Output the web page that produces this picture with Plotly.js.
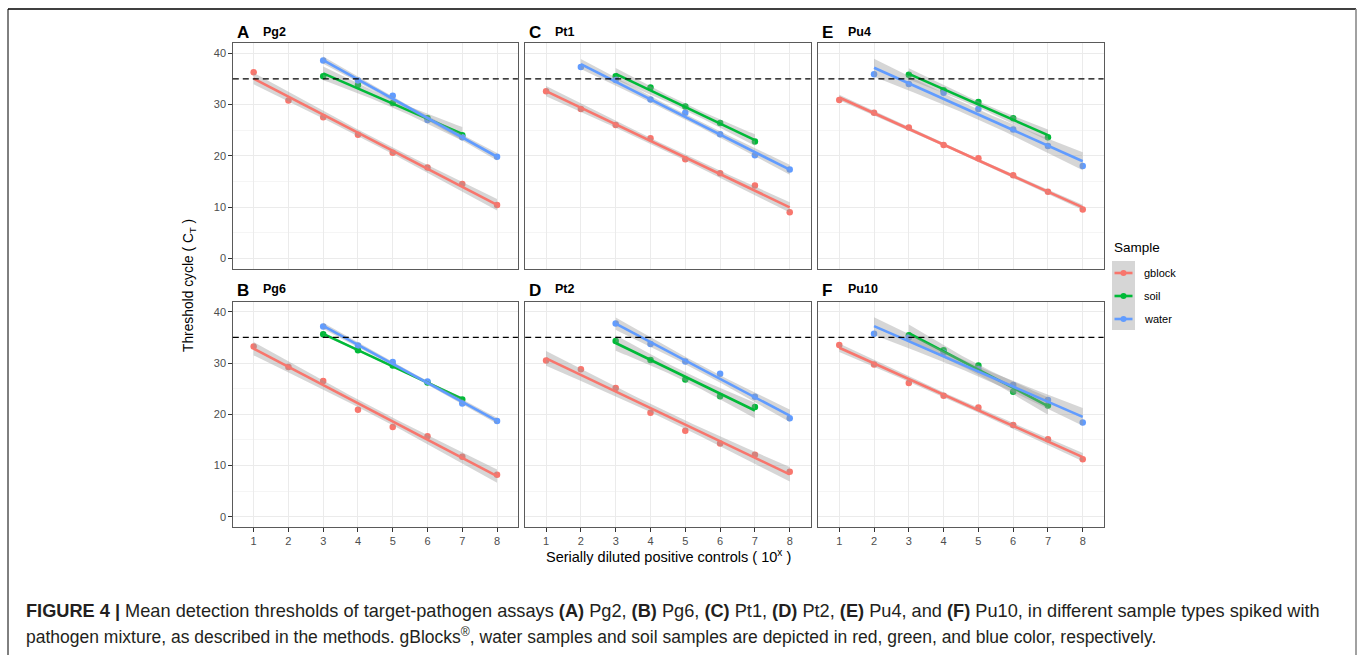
<!DOCTYPE html>
<html>
<head>
<meta charset="utf-8">
<script src="https://cdn.plot.ly/plotly-3.0.1.min.js"></script>
<style>html,body{margin:0;padding:0;background:#fff;}#chart{width:1360px;height:655px;}</style>
</head>
<body>
<div id="chart"></div>
<script>
// ---------------- data ----------------
const dilution = [1, 2, 3, 4, 5, 6, 7, 8];
const soilX = [3, 4, 5, 6, 7];
const panelLetters = ['A', 'B', 'C', 'D', 'E', 'F'];
const assays = ['Pg2', 'Pg6', 'Pt1', 'Pt2', 'Pu4', 'Pu10'];
const sampleNames = ['gblock', 'soil', 'water'];
const sampleColors = ['#F8766D', '#00BA38', '#619CFF'];

const pg2_gblock = [36.3, 30.8, 27.5, 24.1, 20.6, 17.7, 14.5, 10.4];
const pg2_soil = [35.5, 33.8, 30.3, 27.3, 24.0];
const pg2_waterX = [3, 4, 5, 6, 7, 8];
const pg2_water = [38.6, 34.7, 31.7, 27.0, 23.6, 19.8];

const pg6_gblock = [33.2, 29.2, 26.5, 20.9, 17.5, 15.7, 11.7, 8.2];
const pg6_soil = [35.6, 32.5, 29.5, 26.2, 22.9];
const pg6_waterX = [3, 4, 5, 6, 7, 8];
const pg6_water = [37.1, 33.4, 30.2, 26.4, 22.1, 18.7];

const pt1_gblock = [32.6, 29.1, 26.0, 23.4, 19.3, 16.6, 14.2, 9.0];
const pt1_soil = [35.5, 33.3, 29.6, 26.4, 22.8];
const pt1_waterX = [2, 3, 4, 5, 6, 7, 8];
const pt1_water = [37.3, 34.8, 31.0, 28.4, 24.2, 20.1, 17.3];

const pt2_gblock = [30.5, 28.8, 25.1, 20.3, 16.8, 14.3, 12.1, 8.8];
const pt2_soil = [34.3, 30.6, 26.8, 23.5, 21.4];
const pt2_waterX = [3, 4, 5, 6, 7, 8];
const pt2_water = [37.7, 33.7, 30.3, 27.9, 23.4, 19.2];

const pu4_gblock = [30.9, 28.4, 25.5, 22.1, 19.5, 16.2, 13.0, 9.5];
const pu4_soil = [35.8, 32.8, 30.5, 27.3, 23.6];
const pu4_waterX = [2, 3, 4, 5, 6, 7, 8];
const pu4_water = [35.9, 34.0, 32.3, 29.1, 25.1, 21.9, 18.0];

const pu10_gblock = [33.5, 29.7, 26.1, 23.6, 21.3, 17.9, 15.1, 11.2];
const pu10_soil = [35.4, 32.5, 29.5, 24.4, 21.7];
const pu10_waterX = [2, 3, 4, 5, 6, 7, 8];
const pu10_water = [35.7, 35.0, 32.0, 28.8, 25.7, 22.8, 18.4];

const threshold = 35;
const yTicks = [0, 10, 20, 30, 40];

// panel order: A,B,C,D,E,F
const panelSeries = [
  [[dilution, pg2_gblock], [soilX, pg2_soil], [pg2_waterX, pg2_water]],
  [[dilution, pg6_gblock], [soilX, pg6_soil], [pg6_waterX, pg6_water]],
  [[dilution, pt1_gblock], [soilX, pt1_soil], [pt1_waterX, pt1_water]],
  [[dilution, pt2_gblock], [soilX, pt2_soil], [pt2_waterX, pt2_water]],
  [[dilution, pu4_gblock], [soilX, pu4_soil], [pu4_waterX, pu4_water]],
  [[dilution, pu10_gblock], [soilX, pu10_soil], [pu10_waterX, pu10_water]]
];

// ---------------- layout helpers ----------------
const W = 1360, H = 655;
const px = v => v / W;
const py = v => 1 - v / H;
const colBox = [[232.8, 517.9], [525.2, 810.6], [818.4, 1103.6]];
const rowBox = [[43, 268.5], [301.5, 527]];
const FONT = 'Liberation Sans, Arial, Helvetica, sans-serif';

// t quantiles (0.975) for the 95% confidence band, by degrees of freedom
const tq = {1: 12.706, 2: 4.303, 3: 3.182, 4: 2.776, 5: 2.571, 6: 2.447, 7: 2.365};

function lmBand(xs, ys) {
  const n = xs.length;
  const mx = xs.reduce((a, b) => a + b, 0) / n;
  const my = ys.reduce((a, b) => a + b, 0) / n;
  let sxx = 0, sxy = 0;
  for (let i = 0; i < n; i++) { sxx += (xs[i] - mx) ** 2; sxy += (xs[i] - mx) * (ys[i] - my); }
  const b = sxy / sxx, a = my - b * mx;
  let sse = 0;
  for (let i = 0; i < n; i++) sse += (ys[i] - (a + b * xs[i])) ** 2;
  const s = Math.sqrt(sse / (n - 2));
  const t = tq[n - 2];
  const x0 = Math.min(...xs), x1 = Math.max(...xs);
  const gx = [], fit = [], lo = [], hi = [];
  const N = 80;
  for (let k = 0; k <= N; k++) {
    const x = x0 + (x1 - x0) * k / N;
    const f = a + b * x;
    const se = s * Math.sqrt(1 / n + (x - mx) ** 2 / sxx);
    gx.push(x); fit.push(f); lo.push(f - t * se); hi.push(f + t * se);
  }
  return {gx, fit, lo, hi};
}

const traces = [];
const layout = {
  width: W, height: H,
  margin: {l: 0, r: 0, t: 0, b: 0},
  paper_bgcolor: '#fff', plot_bgcolor: '#fff',
  showlegend: false,
  font: {family: FONT, color: '#000'},
  shapes: [], annotations: []
};

for (let p = 0; p < 6; p++) {
  const col = Math.floor(p / 2), row = p % 2;
  const k = p + 1;
  const xa = 'x' + (k === 1 ? '' : k), ya = 'y' + (k === 1 ? '' : k);
  const xkey = 'xaxis' + (k === 1 ? '' : k), ykey = 'yaxis' + (k === 1 ? '' : k);
  layout[xkey] = {
    domain: [px(colBox[col][0]), px(colBox[col][1])],
    anchor: ya, range: [0.4, 8.6], tickvals: dilution, ticktext: dilution.map(String),
    showgrid: true, gridcolor: '#ebebeb', gridwidth: 1, zeroline: false,
    showline: true, mirror: true, linecolor: '#5a5a5a', linewidth: 1,
    ticks: row === 1 ? 'outside' : '', ticklen: 3.5, tickcolor: '#333',
    showticklabels: row === 1,
    tickfont: {size: 11, color: '#4d4d4d', family: FONT}
  };
  layout[ykey] = {
    domain: [py(rowBox[row][1]), py(rowBox[row][0])],
    anchor: xa, range: [-2, 42], tickvals: yTicks, ticktext: yTicks.map(String),
    showgrid: true, gridcolor: '#ebebeb', gridwidth: 1, zeroline: false,
    minor: {showgrid: true, gridcolor: '#f3f3f3', gridwidth: 0.8, tickvals: [5, 15, 25, 35]},
    showline: true, mirror: true, linecolor: '#5a5a5a', linewidth: 1,
    ticks: col === 0 ? 'outside' : '', ticklen: 3.5, tickcolor: '#333',
    showticklabels: col === 0,
    tickfont: {size: 11, color: '#4d4d4d', family: FONT}
  };
  // points first
  for (let s = 0; s < 3; s++) {
    const [xs, ys] = panelSeries[p][s];
    traces.push({
      type: 'scatter', mode: 'markers', x: xs, y: ys, xaxis: xa, yaxis: ya,
      name: sampleNames[s], marker: {color: sampleColors[s], size: 6.5}, hoverinfo: 'x+y'
    });
  }
  // smooth: band then line, per group
  for (let s = 0; s < 3; s++) {
    const [xs, ys] = panelSeries[p][s];
    const bd = lmBand(xs, ys);
    traces.push({
      type: 'scatter', mode: 'lines', x: bd.gx.concat(bd.gx.slice().reverse()),
      y: bd.hi.concat(bd.lo.slice().reverse()), xaxis: xa, yaxis: ya,
      fill: 'toself', fillcolor: 'rgba(153,153,153,0.4)', line: {width: 0, color: 'rgba(0,0,0,0)'},
      hoverinfo: 'skip', name: sampleNames[s] + ' CI'
    });
    traces.push({
      type: 'scatter', mode: 'lines', x: bd.gx, y: bd.fit, xaxis: xa, yaxis: ya,
      line: {color: sampleColors[s], width: 2.6}, hoverinfo: 'skip', name: sampleNames[s] + ' fit'
    });
  }
  // threshold line
  layout.shapes.push({
    type: 'line', xref: xa + ' domain', x0: 0, x1: 1, yref: ya, y0: threshold, y1: threshold,
    line: {color: '#000', width: 1.2, dash: '6px,4px'}
  });
  // strip labels
  const ty = row === 0 ? 33 : 290;
  layout.annotations.push({
    xref: 'paper', yref: 'paper', x: px(colBox[col][0] + 2), y: py(ty), xanchor: 'left', yanchor: 'middle',
    text: '<b>' + panelLetters[p] + '</b>', showarrow: false, font: {size: 17, family: FONT, color: '#000'}
  });
  layout.annotations.push({
    xref: 'paper', yref: 'paper', x: px(colBox[col][0] + 28), y: py(ty - 1), xanchor: 'left', yanchor: 'middle',
    text: '<b>' + assays[p] + '</b>', showarrow: false, font: {size: 12.5, family: FONT, color: '#000'}
  });
}

// axis titles
layout.annotations.push({
  xref: 'paper', yref: 'paper', x: px(668), y: py(556), xanchor: 'center', yanchor: 'middle',
  text: 'Serially diluted positive controls ( 10<sup>x</sup> )', showarrow: false,
  font: {size: 14.5, family: FONT, color: '#000'}
});
layout.annotations.push({
  xref: 'paper', yref: 'paper', x: px(189), y: py(286), xanchor: 'center', yanchor: 'middle',
  text: 'Threshold cycle ( C<sub>T</sub> )', textangle: -90, showarrow: false,
  font: {size: 13.8, family: FONT, color: '#000'}
});

// legend (ggplot style)
layout.annotations.push({
  xref: 'paper', yref: 'paper', x: px(1112), y: py(247), xanchor: 'left', yanchor: 'middle',
  text: 'Sample', showarrow: false, font: {size: 13.5, family: FONT, color: '#000'}
});
layout.shapes.push({
  type: 'rect', xref: 'paper', yref: 'paper', x0: px(1112), x1: px(1135), y0: py(330), y1: py(261),
  fillcolor: 'rgba(153,153,153,0.4)', line: {width: 0}, layer: 'above'
});
const legY = [273, 296, 319];
for (let s = 0; s < 3; s++) {
  layout.shapes.push({
    type: 'line', xref: 'paper', yref: 'paper', x0: px(1114.5), x1: px(1132.5), y0: py(legY[s]), y1: py(legY[s]),
    line: {color: sampleColors[s], width: 2.6}
  });
  layout.shapes.push({
    type: 'circle', xref: 'paper', yref: 'paper', x0: px(1123.5 - 3), x1: px(1123.5 + 3),
    y0: py(legY[s] + 3), y1: py(legY[s] - 3), fillcolor: sampleColors[s], line: {width: 0}
  });
  layout.annotations.push({
    xref: 'paper', yref: 'paper', x: px(1142), y: py(legY[s]), xanchor: 'left', yanchor: 'middle',
    text: sampleNames[s], showarrow: false, font: {size: 11, family: FONT, color: '#000'}
  });
}

// figure frame
layout.shapes.push({type: 'line', xref: 'paper', yref: 'paper', x0: px(8), x1: px(1356), y0: py(9), y1: py(9), line: {color: '#000', width: 1.3}});
layout.shapes.push({type: 'line', xref: 'paper', yref: 'paper', x0: px(8), x1: px(8), y0: py(9), y1: py(655), line: {color: '#000', width: 1}});
layout.shapes.push({type: 'line', xref: 'paper', yref: 'paper', x0: px(1356), x1: px(1356), y0: py(9), y1: py(655), line: {color: '#8a8a8a', width: 1.6}});

// caption
layout.annotations.push({
  xref: 'paper', yref: 'paper', x: px(24), y: py(611), xanchor: 'left', yanchor: 'middle',
  text: '<b>FIGURE 4 |</b> Mean detection thresholds of target-pathogen assays <b>(A)</b> Pg2, <b>(B)</b> Pg6, <b>(C)</b> Pt1, <b>(D)</b> Pt2, <b>(E)</b> Pu4, and <b>(F)</b> Pu10, in different sample types spiked with',
  showarrow: false, font: {size: 18.2, family: FONT, color: '#231f20'}
});
layout.annotations.push({
  xref: 'paper', yref: 'paper', x: px(24), y: py(636), xanchor: 'left', yanchor: 'middle',
  text: 'pathogen mixture, as described in the methods. gBlocks<sup>®</sup>, water samples and soil samples are depicted in red, green, and blue color, respectively.',
  showarrow: false, font: {size: 17.5, family: FONT, color: '#231f20'}
});

Plotly.newPlot('chart', traces, layout, {displayModeBar: false, staticPlot: true});
</script>
</body>
</html>
